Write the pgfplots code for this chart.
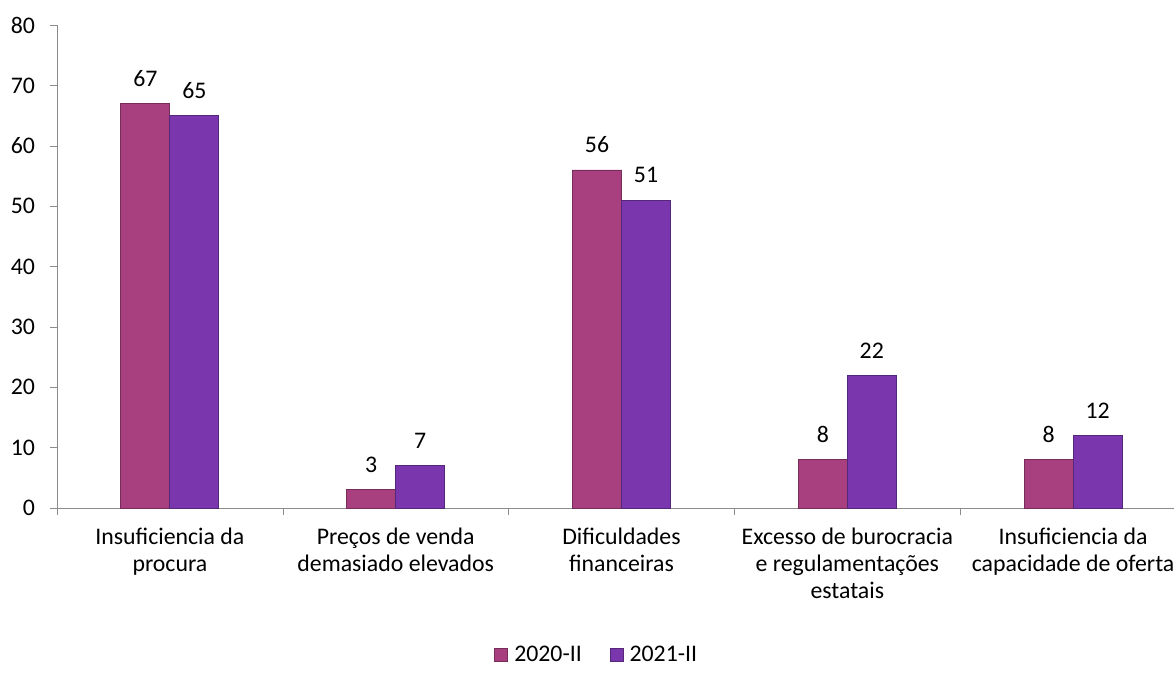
\documentclass[border=0pt]{standalone}
\usepackage{fontspec}
\setmainfont{Carlito}
\usepackage{pgfplots}
\pgfplotsset{compat=1.18}
\definecolor{rosa}{HTML}{A8407F}
\definecolor{roxo}{HTML}{7A37AD}
\definecolor{eixo}{HTML}{8C8C8C}

\begin{document}
\begin{tikzpicture}
\begin{axis}[
  scale only axis, width=564.5pt, height=241.5pt,
  ybar=0pt, bar width=24.5pt,
  xmin=-0.5, xmax=4.5, ymin=0, ymax=80,
  axis x line*=bottom, axis y line*=left,
  axis line style={eixo}, tick style={eixo},
  tick align=outside, major tick length=3.5pt, minor tick length=3.5pt,
  xtick={0,...,4}, major x tick style={draw=none},
  minor xtick={-0.5,0.5,...,4.5},
  xticklabels={Insuficiencia da\\procura, Preços de venda\\demasiado elevados, Dificuldades\\financeiras, Excesso de burocracia\\e regulamentações\\estatais, Insuficiencia da\\capacidade de oferta},
  xticklabel style={align=center, font=\fontsize{11.9}{13.5}\selectfont, yshift=-3pt},
  ytick={0,10,...,80},
  yticklabel style={xshift=-4pt},
  tick label style={font=\fontsize{11.9}{13.5}\selectfont},
  /pgf/number format/assume math mode=true,
  nodes near coords,
  nodes near coords style={font=\fontsize{11.9}{13}\selectfont, yshift=5pt, text=black},
  legend style={at={(0.479,-0.304)}, anchor=center, draw=none, legend columns=2,
    font=\fontsize{11.9}{13}\selectfont,
    /tikz/every odd column/.append style={column sep=1pt},
    /tikz/every even column/.append style={column sep=12pt}},
  legend image code/.code={\draw[#1] (0pt,-3.2pt) rectangle (6.5pt,3.2pt);},
  clip=false,
]
\addplot[fill=rosa, draw=rosa!70!black] coordinates {(0,67) (1,3) (2,56) (3,8) (4,8)};
\addplot[fill=roxo, draw=roxo!70!black] coordinates {(0,65) (1,7) (2,51) (3,22) (4,12)};
\legend{2020-II, 2021-II}
\end{axis}
\pgfresetboundingbox
\path[use as bounding box] (-28.5pt,-89pt) rectangle (558.5pt,254pt);
\end{tikzpicture}
\end{document}
